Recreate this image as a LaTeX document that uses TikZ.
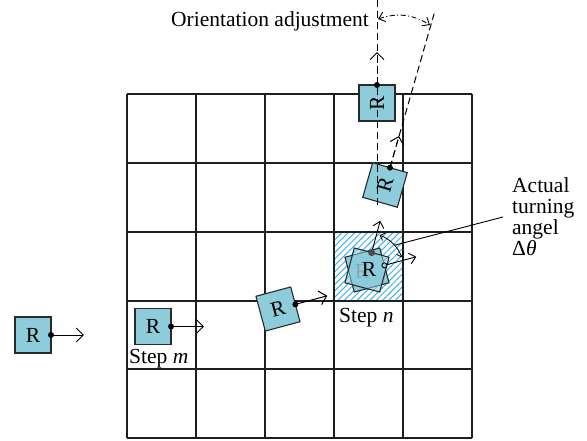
\documentclass[tikz,border=0pt]{standalone}
\usepackage{fontspec}
\setmainfont{Liberation Serif}
\usetikzlibrary{arrows.meta,calc,patterns.meta}
\definecolor{robotfill}{HTML}{8DCCDB}
\definecolor{boxline}{HTML}{2A2A2A}
\definecolor{hatchcol}{HTML}{3FAFE8}
\definecolor{gridcol}{HTML}{1E1E1E}
\begin{document}
\begin{tikzpicture}[x=1pt,y=-1pt,
  font=\fontsize{21.5}{21}\selectfont,
  robot/.style={draw=boxline, fill=robotfill, minimum size=36pt, inner sep=0pt, outer sep=0pt, line width=1.1pt},
  gridline/.style={draw=gridcol, line width=1.5pt},
  headarrow/.style={line width=1pt, -{Straight Barb[length=7pt,width=14pt,line width=1pt]}},
  smallarrow/.style={line width=0.9pt, -{Straight Barb[length=6pt,width=11pt,line width=0.9pt]}},
  dashline/.style={line width=1pt, dash pattern=on 7pt off 4pt},
  dashdotline/.style={line width=0.9pt, dash pattern=on 5pt off 2.5pt on 1pt off 2.5pt},
  robotdot/.style={fill=black}
]
\useasboundingbox (0,0) rectangle (587,441);

% hatched cell
\fill[pattern={Lines[angle=45,distance=4.5pt,line width=1pt]}, pattern color=hatchcol] (334,232) rectangle (403,301);

% grid
\foreach \x in {127,196,265,334,403,472} {
  \draw[gridline] (\x,94) -- (\x,438);
}
\foreach \y in {94,163,232,301,369,438} {
  \draw[gridline] (127,\y) -- (472,\y);
}

% robot 1 (outside)
\node[robot] (r1) at (33,335) {R};
\draw[headarrow] (r1.east) -- ($(r1.center)!2.833!(r1.east)$);
\fill[robotdot] (r1.east) circle (3pt);

% robot 2 (step m)
\node[robot] (r2) at (153,326.5) {R};
\draw[headarrow] (r2.east) -- ($(r2.center)!2.833!(r2.east)$);
\fill[robotdot] (r2.east) circle (3pt);
\node[anchor=base west, inner sep=0pt] (stepm) at (129,363) {Step \textit{m}};

% robot 3
\node[robot, rotate=15] (r3) at (278,309) {R};
\draw[headarrow] (r3.east) -- ($(r3.center)!2.833!(r3.east)$);
\fill[robotdot] (r3.east) circle (3pt);

% robot 4 (step n, turning)
\coordinate (c4) at (367,270);
\node[robot, rotate=15] (r4a) at (c4) {};
\node[text=gray] (r4g) at (362,271) {R};
\node[robot, rotate=75, fill opacity=0.55] (r4b) at (c4) {};
\node (r4t) at (369,269) {R};
\draw[smallarrow] (r4a.east) -- ($(r4a.center)!2.833!(r4a.east)$);
\draw[smallarrow] (r4b.east) -- ($(r4b.center)!2.833!(r4b.east)$);
\fill[gray!60!black] (r4b.east) circle (3.5pt);
\draw[line width=0.8pt, fill=robotfill] (r4a.east) circle (2.5pt);
\draw[line width=0.8pt, {Straight Barb[length=4pt,width=8pt,line width=0.8pt]}-{Straight Barb[length=4pt,width=8pt,line width=0.8pt]}]
  ([shift={(-70:37)}]c4) arc[start angle=-70, end angle=-20, radius=37];
\coordinate (arcmid) at ([shift={(-42:37)}]c4);
\node[anchor=base west, inner sep=0pt] (stepn) at (339,322) {Step \textit{n}};

% robot 5 (tilted)
\node[robot, rotate=74] (r5) at (385,185) {R};
\coordinate (tilttop) at ($(r5.center)!9.9!(r5.east)$);
\draw[dashline] (r5.east) -- (tilttop);
\draw[headarrow, dash pattern=on 7pt off 4pt] (r5.east) -- ($(r5.center)!2.833!(r5.east)$);
\fill[robotdot] (r5.east) circle (3pt);

% robot 6 (top, facing up)
\node[robot, rotate=90] (r6) at (377,103) {R};
\coordinate (vtop) at (377,0);
\coordinate (vbot) at (377,205);
\draw[dashline] (vtop) -- (vbot);
\draw[headarrow, dash pattern=on 7pt off 4pt] (r6.east) -- ($(r6.center)!2.833!(r6.east)$);
\fill[robotdot] (r6.east) circle (3pt);

% orientation adjustment
\coordinate (oaL) at (378,19);
\coordinate (oaR) at (430,25);
\draw[dashdotline, {Straight Barb[length=6pt,width=10pt,line width=0.9pt]}-{Straight Barb[length=6pt,width=10pt,line width=0.9pt]}] (oaL) to[bend left=25] (oaR);
\node[anchor=base east, inner sep=0pt] (oatext) at (369,27) {Orientation adjustment};

% actual turning angle label
\node[anchor=north west, align=left, inner sep=0pt] (atext) at (512,177) {Actual\\turning\\angel\\Δ\textit{θ}};
\coordinate (ptr) at (503,217);
\draw[line width=0.9pt] (ptr) -- (arcmid);
\end{tikzpicture}
\end{document}
